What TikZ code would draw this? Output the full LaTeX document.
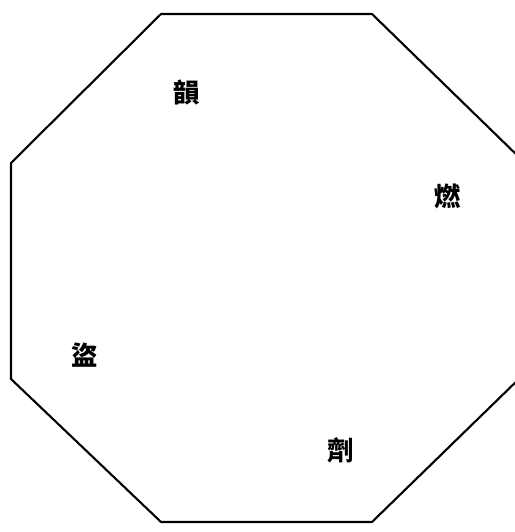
\documentclass[tikz,border=0pt]{standalone}
\usepackage{fontspec}
\newfontfamily\cjk{Noto Sans CJK TC}
\usetikzlibrary{positioning}
\tikzset{
  glyph/.style={font=\fontsize{15}{15}\selectfont\cjk\bfseries,inner sep=0pt},
  rim/.style={line width=1.2pt,line join=miter}
}

\begin{document}
\begin{tikzpicture}
      \useasboundingbox (0,0) rectangle (10.3,10.64);
      % octagon outline
      \coordinate (p1) at (3.22,10.36);
      \coordinate (p2) at (7.44,10.36);
      \coordinate (p3) at (10.44,7.44);
      \coordinate (p4) at (10.44,3.12);
      \coordinate (p5) at (7.44,0.20);
      \coordinate (p6) at (3.22,0.20);
      \coordinate (p7) at (0.22,3.06);
      \coordinate (p8) at (0.22,7.38);
      \draw[rim] (p1) -- (p2) -- (p3) -- (p4) -- (p5) -- (p6) -- (p7) -- (p8) -- cycle;
      \node[glyph] (top) at (3.74,8.80) {韻};
      \node[glyph] (right) at (8.96,6.72) {燃};
      \node[glyph] (left) at (1.70,3.54) {盜};
      \node[glyph] (bottom) at (6.82,1.64) {劑};
    \end{tikzpicture}
\end{document}
